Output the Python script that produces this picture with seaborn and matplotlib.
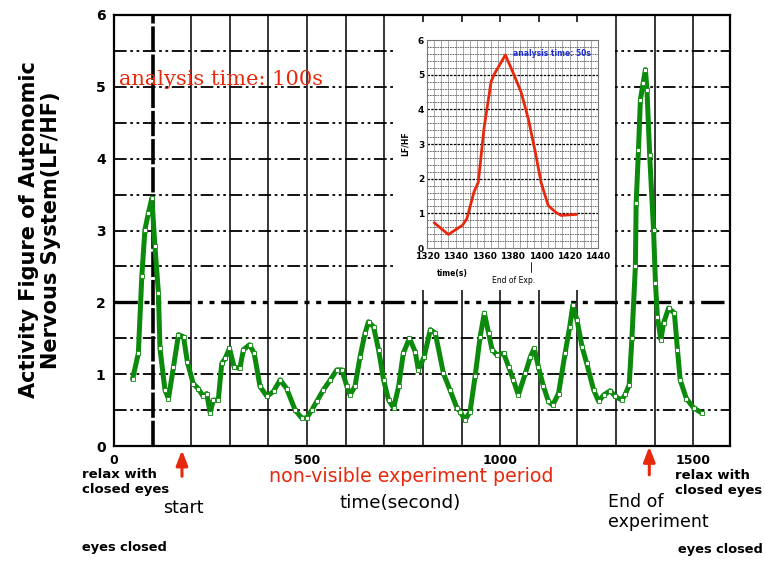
import matplotlib
matplotlib.use("Agg")
import matplotlib.pyplot as plt
import seaborn as sns
import pandas as pd
from matplotlib.patches import Rectangle

# Main LF/HF series (analysis window 100 s)
time_s = [48, 63, 72, 80, 89, 98, 106, 115, 119, 132, 141, 154, 167, 180, 190, 205,
          218, 231, 240, 249, 257, 270, 279, 288, 299, 311, 326, 335, 351, 363, 378,
          396, 413, 430, 447, 469, 486, 499, 512, 525, 542, 560, 577, 590, 603, 611,
          624, 637, 650, 659, 672, 685, 698, 711, 724, 737, 749, 765, 780, 788, 803,
          819, 832, 853, 870, 888, 896, 909, 922, 935, 948, 959, 970, 979, 991, 1009,
          1022, 1034, 1047, 1065, 1078, 1088, 1099, 1112, 1125, 1136, 1151, 1168, 1180,
          1188, 1199, 1212, 1224, 1242, 1255, 1268, 1285, 1298, 1315, 1324, 1334, 1341,
          1350, 1352, 1358, 1363, 1370, 1376, 1380, 1387, 1397, 1402, 1407, 1416, 1423,
          1436, 1451, 1459, 1466, 1482, 1501, 1522]
lf_hf = [0.93, 1.29, 2.36, 3.01, 3.24, 3.45, 2.78, 2.13, 1.36, 0.78, 0.66, 1.10, 1.55,
         1.52, 1.17, 0.87, 0.80, 0.69, 0.73, 0.46, 0.64, 0.64, 1.15, 1.22, 1.36, 1.10,
         1.08, 1.34, 1.41, 1.29, 0.83, 0.69, 0.76, 0.92, 0.80, 0.50, 0.39, 0.39, 0.50,
         0.62, 0.78, 0.92, 1.06, 1.06, 0.83, 0.71, 0.83, 1.24, 1.57, 1.73, 1.66, 1.34,
         0.92, 0.64, 0.53, 0.83, 1.29, 1.50, 1.31, 1.06, 1.24, 1.62, 1.57, 1.01, 0.78,
         0.53, 0.48, 0.36, 0.48, 0.97, 1.52, 1.85, 1.57, 1.34, 1.27, 1.29, 1.10, 0.92,
         0.71, 1.01, 1.24, 1.36, 1.10, 0.83, 0.62, 0.57, 0.73, 1.29, 1.66, 1.96, 1.75,
         1.38, 1.15, 0.78, 0.62, 0.71, 0.77, 0.69, 0.64, 0.72, 0.85, 1.50, 2.50, 3.38,
         4.12, 4.82, 5.05, 5.24, 4.96, 4.05, 3.01, 2.27, 1.80, 1.48, 1.71, 1.92, 1.85,
         1.34, 0.92, 0.66, 0.53, 0.46]

# Detail around the end of the experiment (analysis window 50 s)
detail_time = [1325, 1335, 1345, 1348, 1353, 1356, 1360, 1365, 1367, 1375, 1381, 1386,
               1391, 1396, 1400, 1405, 1410, 1414, 1425]
detail_lf_hf = [0.73, 0.39, 0.66, 0.85, 1.62, 1.90, 3.45, 4.80, 5.00, 5.57, 5.00, 4.50,
                3.74, 2.77, 1.90, 1.23, 1.04, 0.94, 0.97]

main_xticks = [0, 500, 1000, 1500]
main_yticks = [0, 1, 2, 3, 4, 5, 6]
detail_xticks = [1320, 1340, 1360, 1380, 1400, 1420, 1440]
detail_yticks = [0, 1, 2, 3, 4, 5, 6]

GREEN = "#0b8a0b"
RED = "#e8280c"
BLUE = "#1f2fd6"
W, H = 765, 561

sns.set_style("white")
plt.rcParams["font.family"] = ["DejaVu Sans"]
for key in ["text.color", "axes.labelcolor", "xtick.color", "ytick.color"]:
    plt.rcParams[key] = "black"

fig = plt.figure(figsize=(W / 100, H / 100), dpi=100)


def fx(px):
    return px / W


def fy(py):
    return 1 - py / H


ax = fig.add_axes([fx(114), fy(446), fx(730) - fx(114), fy(15) - fy(446)])
ax.set_xlim(0, 1595)
ax.set_ylim(0, 6)

# grid: solid verticals every 100 s, dash-dot-dot horizontals every 0.5
dashdotdot = (0, (7, 2, 1.5, 2, 1.5, 2))
for xv in range(100, 1600, 100):
    ax.axvline(xv, color="black", lw=2.6 if xv == 100 else 1.1,
               ls=(0, (7, 0.8)) if xv == 100 else "-", zorder=1)
for yv in [0.5, 1, 1.5, 2, 2.5, 3, 3.5, 4, 4.5, 5, 5.5]:
    ax.axhline(yv, color="black", lw=2.4 if yv == 2 else 1.3, ls=dashdotdot, zorder=1)

main_df = pd.DataFrame({"time": time_s, "lfhf": lf_hf})
sns.lineplot(data=main_df, x="time", y="lfhf", ax=ax, color=GREEN, lw=3.6,
             marker="s", markersize=2.6, markerfacecolor="white",
             markeredgecolor=GREEN, markeredgewidth=0.6, zorder=3)

ax.set_xticks(main_xticks)
ax.set_yticks(main_yticks)
ax.set_xticklabels([str(v) for v in main_xticks], fontsize=9, fontweight="bold")
ax.set_yticklabels([str(v) for v in main_yticks], fontsize=10, fontweight="bold")
ax.tick_params(length=0, pad=6)
ax.set_xlabel("")
ax.set_ylabel("")
for sp in ax.spines.values():
    sp.set_color("black")
    sp.set_linewidth(1.6)

ax.text(13, 5.1, "analysis time: 100s", color=RED, fontsize=15,
        family=["DejaVu Serif"], va="center", ha="left", zorder=4)

# arrows marking start and end of the experiment
arrow_kw = dict(arrowstyle="-|>,head_width=0.35,head_length=0.9", color=RED, lw=2.2)
ax.annotate("", xy=(176, -0.02), xytext=(176, -0.46), xycoords="data",
            arrowprops=arrow_kw, annotation_clip=False)
ax.annotate("", xy=(1386, 0.03), xytext=(1386, -0.44), xycoords="data",
            arrowprops=arrow_kw, annotation_clip=False)

# axis titles and annotations
fig.text(fx(40), fy(230), "Activity Figure of Autonomic\nNervous System(LF/HF)",
         rotation=90, ha="center", va="center", multialignment="center",
         fontsize=15, fontweight="bold", linespacing=1.15)
fig.text(fx(411), fy(477), "non-visible experiment period", color=RED,
         fontsize=13.7, ha="center", va="center")
fig.text(fx(400), fy(503), "time(second)", fontsize=13.2, ha="center", va="center")
fig.text(fx(82), fy(482), "relax with\nclosed eyes", fontsize=9.5, fontweight="bold",
         ha="left", va="center", linespacing=1.15)
fig.text(fx(163), fy(508), "start", fontsize=12.5, ha="left", va="center")
fig.text(fx(82), fy(547), "eyes closed", fontsize=9.4, fontweight="bold",
         ha="left", va="center")
fig.text(fx(675), fy(483), "relax with\nclosed eyes", fontsize=9.5, fontweight="bold",
         ha="left", va="center", linespacing=1.15)
fig.text(fx(608), fy(512), "End of\nexperiment", fontsize=12.5, ha="left",
         va="center", linespacing=1.2)
fig.text(fx(678), fy(550), "eyes closed", fontsize=9.4, fontweight="bold",
         ha="left", va="center")

# white panel behind the detail chart
fig.patches.append(Rectangle((fx(393), fy(290)), fx(615) - fx(393), fy(22) - fy(290),
                             transform=fig.transFigure, facecolor="white",
                             edgecolor="none", zorder=5))

ins = fig.add_axes([fx(427), fy(248), fx(598) - fx(427), fy(40) - fy(248)])
ins.set_zorder(6)
ins.set_xlim(1320, 1440)
ins.set_ylim(0, 6)
for xv in range(1325, 1440, 5):
    ins.axvline(xv, color="#9a9a9a", lw=0.6, zorder=1)
for i in range(1, 30):
    yv = i * 0.2
    dark = abs(yv - round(yv)) < 1e-6
    ins.axhline(yv, color="black" if dark else "#555555", lw=0.9 if dark else 0.6,
                ls=(0, (2, 1)), zorder=1)

detail_df = pd.DataFrame({"time": detail_time, "lfhf": detail_lf_hf})
sns.lineplot(data=detail_df, x="time", y="lfhf", ax=ins, color=RED, lw=2.0, zorder=3)

ins.set_xticks(detail_xticks)
ins.set_yticks(detail_yticks)
ins.set_xticklabels([str(v) for v in detail_xticks], fontsize=6.5, fontweight="bold")
ins.set_yticklabels([str(v) for v in detail_yticks], fontsize=6.5, fontweight="bold")
ins.tick_params(axis="x", length=0, pad=3)
ins.tick_params(axis="y", length=0, pad=2)
ins.set_xlabel("")
ins.set_ylabel("LF/HF", fontsize=5.5, fontweight="bold", labelpad=6)
for sp in ins.spines.values():
    sp.set_color("#777777")
    sp.set_linewidth(0.8)
ins.text(1408, 5.6, "analysis time: 50s", color=BLUE, fontsize=5.5, fontweight="bold",
         ha="center", va="center")
ins.text(1338, -0.74, "time(s)", fontsize=5.5, fontweight="bold", ha="center",
         va="center")
ins.text(1381, -0.94, "End of Exp.", fontsize=5.5, ha="center", va="center")
ins.plot([1393, 1393], [-0.4, -0.7], color="black", lw=0.6, clip_on=False)

fig.savefig("out.png", dpi=100, facecolor="white")
